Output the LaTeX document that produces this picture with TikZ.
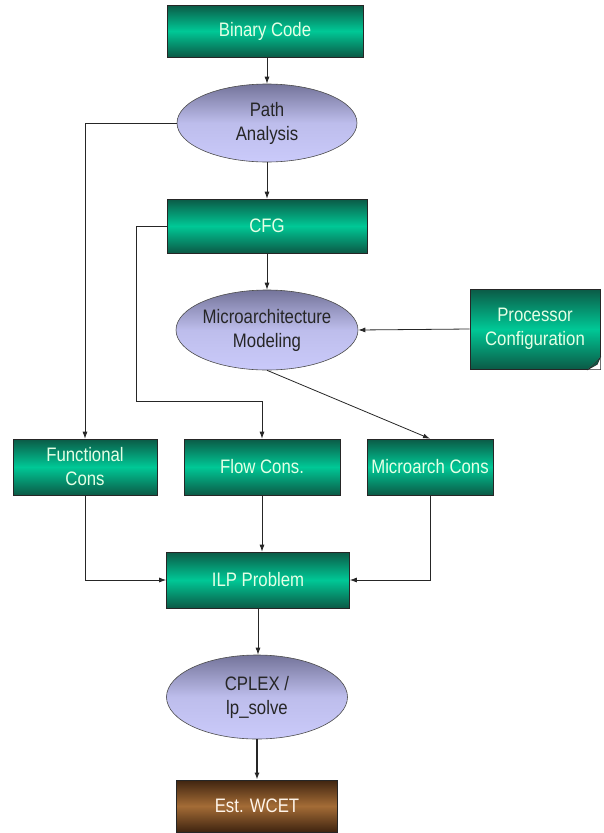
\documentclass[tikz,border=0pt]{standalone}
\usepackage{fontspec}
\setmainfont{Liberation Sans}[FakeStretch=0.86]
\usetikzlibrary{shapes.geometric,arrows.meta}
\definecolor{gdark}{HTML}{0B5A46}
\definecolor{gmid}{HTML}{00C896}
\definecolor{edark}{HTML}{74749A}
\definecolor{elight}{HTML}{CACAFA}
\definecolor{bdark}{HTML}{3F2410}
\definecolor{bmid}{HTML}{A46C36}
\begin{document}
\begin{tikzpicture}[x=1pt,y=-1pt,
  lbl/.style={font=\fontsize{19.5}{24}\selectfont, align=center, inner sep=0pt},
  gbox/.style={lbl, draw=black!85, line width=0.6pt, top color=gdark, bottom color=gdark, middle color=gmid, text=white!90!green},
  bbox/.style={lbl, draw=black!85, line width=0.6pt, top color=bdark, bottom color=bdark, middle color=bmid, text=white!92!orange},
  ebox/.style={lbl, ellipse, draw=black!70, line width=0.6pt, top color=edark, bottom color=elight, middle color=elight!85!edark, text=black!85},
  arr/.style={draw=black!85, line width=0.8pt, -{Latex[length=7pt,width=5pt]}}
]
\useasboundingbox (0,0) rectangle (603,833);

\node[gbox, minimum width=196pt, minimum height=52pt] (bin) at (265,31) {Binary Code};
\node[ebox, minimum width=180pt, minimum height=78pt] (path) at (267,123) {Path\\Analysis};
\node[gbox, minimum width=200pt, minimum height=54pt] (cfg) at (267,226) {CFG};
\node[ebox, minimum width=182pt, minimum height=80pt] (micro) at (267,330) {Microarchitecture\\Modeling};
\node[gbox, minimum width=130pt, minimum height=80pt] (proc) at (535,329) {Processor\\Configuration};
\fill[white] (proc.south east) -- ++(-12,0) -- ++(12,-12) -- cycle;
\filldraw[draw=black!85, line width=0.5pt, fill=gdark] ([xshift=-12pt]proc.south east) -- ([yshift=12pt]proc.south east) -- ([xshift=-3pt,yshift=5pt]proc.south east) -- cycle;
\node[gbox, minimum width=144pt, minimum height=56pt] (fcons) at (85,467) {Functional\\Cons};
\node[gbox, minimum width=156pt, minimum height=56pt] (flow) at (262,467) {Flow Cons.};
\node[gbox, minimum width=126pt, minimum height=56pt] (mcons) at (430,467) {Microarch Cons};
\node[gbox, minimum width=183pt, minimum height=56pt] (ilp) at (258,580) {ILP Problem};
\node[ebox, minimum width=181pt, minimum height=84pt] (cplex) at (257,697) {CPLEX /\\lp\_solve};
\node[bbox, minimum width=161pt, minimum height=52pt] (wcet) at (257,806) {Est. WCET};

\coordinate (c1) at (136,401);
\draw[arr] (bin.south -| path.north) -- (path.north);
\draw[arr] (path.west) -| (fcons.north);
\draw[arr] (path) -- (cfg);
\draw[arr] (cfg.west) -| (c1) -| (flow.north);
\draw[arr] (cfg) -- (micro);
\draw[arr] (proc.west) -- (micro.east);
\draw[arr] (micro.south) -- (mcons.north);
\draw[arr] (fcons.south) |- (ilp.west);
\draw[arr] (flow.south) -- (flow.south |- ilp.north);
\draw[arr] (mcons.south) |- (ilp.east);
\draw[arr] (ilp.south) -- (ilp.south |- cplex.north);
\draw[arr, line width=1.5pt] (cplex.south) -- (wcet.north);
\end{tikzpicture}
\end{document}
